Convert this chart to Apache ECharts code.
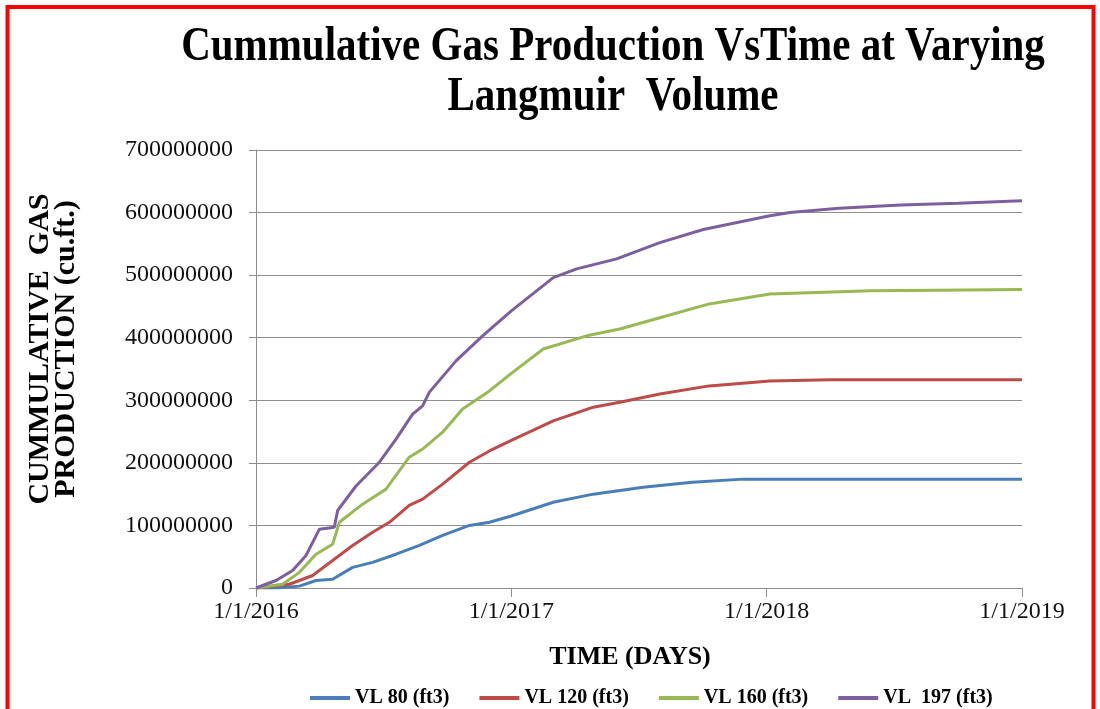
<!DOCTYPE html>
<html>
<head>
<meta charset="utf-8">
<script src="https://cdn.jsdelivr.net/npm/echarts@6/dist/echarts.min.js"></script>
<style>
  html, body { margin: 0; padding: 0; background: #fff; }
  #chart { width: 1100px; height: 709px; }
</style>
</head>
<body>
<div id="chart"></div>
<script>
// x = months since 1/1/2016, y = cumulative gas (million cu.ft.)
const seriesNames = ['VL 80 (ft3)', 'VL 120 (ft3)', 'VL 160 (ft3)', 'VL  197 (ft3)'];
const seriesColors = ['#4a7ebb', '#be4b48', '#98b954', '#7d5fa0'];
const yearLabels = ['1/1/2016', '1/1/2017', '1/1/2018', '1/1/2019'];
const titleLines = ['Cummulative Gas Production VsTime at Varying', 'Langmuir  Volume'];

const vl80Months = [0, 1.0, 2.04, 2.82, 3.6, 4.54, 5.48, 6.58, 7.68, 8.77, 10.03, 10.97, 12.0, 13.97, 15.85, 18.2, 20.5, 22.9, 24.15, 36];
const vl80Values = [0, 0, 3, 12, 14, 33, 41, 54, 68, 84, 100, 105, 115, 137, 150, 161, 169, 174, 174, 174];

const vl120Months = [0, 1.57, 2.66, 3.6, 4.54, 5.48, 6.27, 7.2, 7.83, 8.77, 10.03, 10.97, 12.0, 13.97, 15.85, 17.1, 18.98, 21.3, 24.15, 27, 36];
const vl120Values = [0, 6, 20, 44, 68, 89, 105, 132, 142, 166, 201, 219, 236, 267, 289, 297, 310, 323, 331, 333, 333];

const vl160Months = [0, 1.25, 2.04, 2.82, 3.6, 3.92, 5.01, 6.11, 7.2, 7.83, 8.77, 9.71, 10.97, 12.0, 13.5, 15.54, 17.1, 18.98, 21.3, 24.15, 28.9, 32, 36];
const vl160Values = [0, 6, 25, 54, 70, 105, 134, 158, 209, 222, 249, 286, 315, 343, 382, 403, 414, 432, 454, 470, 475, 476, 477];

const vl197Months = [0, 0.94, 1.72, 2.35, 2.98, 3.68, 3.84, 4.7, 5.8, 6.58, 7.36, 7.83, 8.15, 9.4, 10.65, 12.0, 13.97, 15.07, 16.95, 18.98, 21.02, 24.15, 25.1, 27.4, 30.3, 33, 36];
const vl197Values = [0, 12, 28, 52, 94, 97, 124, 163, 201, 238, 278, 291, 313, 363, 403, 443, 496, 510, 526, 552, 573, 595, 600, 607, 612, 615, 619];

const allMonths = [vl80Months, vl120Months, vl160Months, vl197Months];
const allValues = [vl80Values, vl120Values, vl160Values, vl197Values];

const serif = '"Liberation Serif", "Times New Roman", serif';
const gray = '#8e8e8e';

const chart = echarts.init(document.getElementById('chart'));
chart.setOption({
  backgroundColor: '#fff',
  animation: false,
  graphic: [
    {
      type: 'rect',
      shape: { x: 7.5, y: 7, width: 1086, height: 800 },
      style: { fill: 'none', stroke: '#ff0000', lineWidth: 4 },
      silent: true
    },
    // title, stretched a little vertically like the original
    {
      type: 'text', x: 613, y: 72, scaleY: 1.18,
      style: { text: titleLines[0], font: 'bold 41px ' + serif, fill: '#000', textAlign: 'center', textVerticalAlign: 'bottom' }
    },
    {
      type: 'text', x: 613, y: 122, scaleY: 1.18,
      style: { text: titleLines[1], font: 'bold 41px ' + serif, fill: '#000', textAlign: 'center', textVerticalAlign: 'bottom' }
    }
  ],
  legend: {
    left: 305,
    top: 683,
    icon: 'rect',
    itemWidth: 40,
    itemHeight: 4,
    itemGap: 30,
    textStyle: { fontFamily: serif, fontSize: 20, fontWeight: 'bold', color: '#000' },
    data: seriesNames
  },
  grid: { left: 256, right: 78, top: 150, bottom: 121 },
  xAxis: {
    type: 'value',
    min: 0,
    max: 36,
    interval: 12,
    name: 'TIME (DAYS)',
    nameLocation: 'middle',
    nameGap: 56,
    nameTextStyle: { fontFamily: serif, fontSize: 26, fontWeight: 'bold', color: '#000', padding: [0, 18, 0, 0] },
    axisLine: { lineStyle: { color: gray } },
    axisTick: { show: true, length: 9, lineStyle: { color: gray } },
    axisLabel: {
      margin: 12,
      fontFamily: serif, fontSize: 24, color: '#111',
      formatter: v => yearLabels[Math.round(v / 12)]
    },
    splitLine: { show: false }
  },
  yAxis: {
    type: 'value',
    min: 0,
    max: 700000000,
    interval: 100000000,
    name: 'CUMMULATIVE  GAS\nPRODUCTION (cu.ft.)',
    nameLocation: 'middle',
    nameRotate: 90,
    nameGap: 177,
    nameTextStyle: { fontFamily: serif, fontSize: 30, fontWeight: 'bold', color: '#000', lineHeight: 26, padding: [0, 0, 0, 40] },
    axisLine: { show: true, lineStyle: { color: gray } },
    axisTick: { show: true, length: 7, lineStyle: { color: gray } },
    axisLabel: {
      margin: 23,
      fontFamily: serif, fontSize: 24, color: '#111',
      formatter: v => String(v)
    },
    splitLine: { lineStyle: { color: gray, width: 1 } }
  },
  series: seriesNames.map((name, i) => ({
    name,
    type: 'line',
    symbol: 'none',
    data: allMonths[i].map((m, j) => [m, allValues[i][j] * 1000000]),
    lineStyle: { width: 3, color: seriesColors[i] },
    itemStyle: { color: seriesColors[i] }
  }))
});
</script>
</body>
</html>
